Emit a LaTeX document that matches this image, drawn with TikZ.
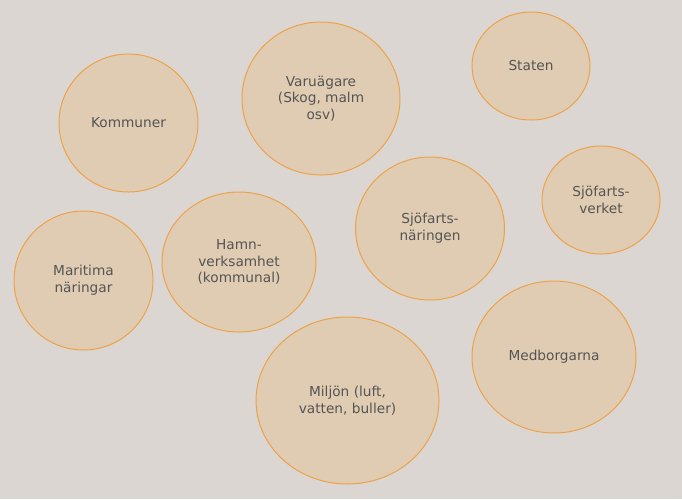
\documentclass[tikz,border=0pt]{standalone}
\usepackage{fontspec}
\setmainfont{DejaVu Sans}
\usetikzlibrary{shapes.geometric}
\definecolor{bg}{HTML}{DCD6D2}
\definecolor{cfill}{HTML}{E0CCB2}
\definecolor{cline}{HTML}{EDA24A}
\definecolor{ctext}{HTML}{555555}
\begin{document}
\begin{tikzpicture}[x=1pt,y=-1pt,
  actor/.style={ellipse,draw=cline,fill=cfill,line width=1pt,inner sep=0pt,
    text=ctext,align=center,font=\fontsize{13.7}{16.6}\selectfont},
  ]
\fill[bg] (0,0) rectangle (682,499);
\useasboundingbox (0,0) rectangle (682,499);
\node[actor,minimum width=139pt,minimum height=138pt] (kom) at (128.5,123) {Kommuner};
\node[actor,minimum width=158pt,minimum height=153pt] (var) at (321,98.5) {Varuägare\\(Skog, malm\\osv)};
\node[actor,minimum width=118pt,minimum height=108pt] (sta) at (531,66) {Staten};
\node[actor,minimum width=118pt,minimum height=108pt] (sjv) at (601,200) {Sjöfarts-\\verket};
\node[actor,minimum width=149pt,minimum height=143pt] (sjn) at (430,228.5) {Sjöfarts-\\näringen};
\node[actor,minimum width=154pt,minimum height=140pt] (ham) at (239,262) {Hamn-\\verksamhet\\(kommunal)};
\node[actor,minimum width=139pt,minimum height=139pt] (mar) at (83.5,280.5) {Maritima\\näringar};
\node[actor,minimum width=183pt,minimum height=167pt] (mil) at (347.5,400.5) {Miljön (luft,\\vatten, buller)};
\node[actor,minimum width=164pt,minimum height=152pt] (med) at (554,357) {Medborgarna};
\end{tikzpicture}
\end{document}
